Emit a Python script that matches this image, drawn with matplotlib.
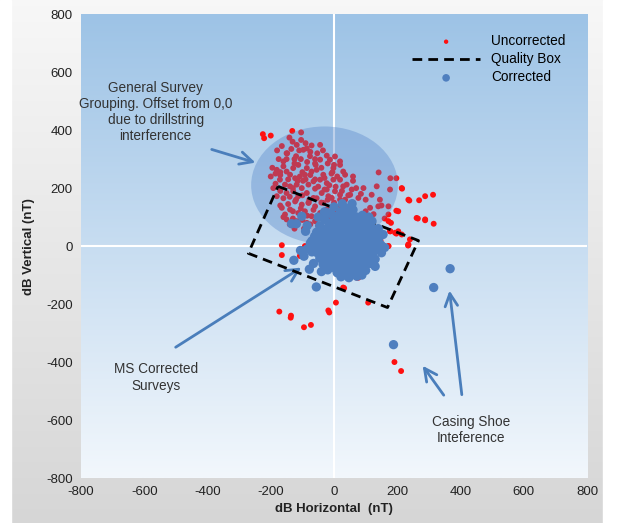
import numpy as np
import matplotlib
matplotlib.use("Agg")
import matplotlib.pyplot as plt
from matplotlib.patches import Ellipse

plt.rcParams['font.family'] = ['Liberation Sans', 'DejaVu Sans']
plt.rcParams['axes.unicode_minus'] = False

# ---------------- data ----------------
uncorrected_x = [-225, -221, -200, -132, -104, -141, -131, -118, -104, -97, -86, -71, -44,
                 -53, -23, -13, 3, -44, -160, -181, -150, -129, -113, -86, -71, -55, -34, -2, 19,
                 -139, -123, -108, -92, -171, -155, -139, -118, -102, -81, -65, -44, -23, -2, 19, 35,
                 -150, -129, -113, -86, -65, -39, -18, 3, 19, -123, -102, -81, -60, -34,
                 -139, -113, -92, -71, -44, -23, -150, -118, -86, -60, -192, -181, -165, -155,
                 19, 29, 40, -60, -23, 29, 56, 93, 135, -7, 19, 51, 77, 119, 145, 177, 214,
                 114, 140, 172, 172, 203, 235, 269, 288, 261, 288, 193, 203, 214, 177, 145, 172,
                 240, 235, 140, 135, 119, 93, 77, 29, -97, -92,
                 -165, -165, -108, -92, 32, 6, -15, -18, -173, -137, -136, -95, -73,
                 191, 212, 108, 95, 124, 72, 172, 235, 151,
                 313, 315, 265, 288, 238, 215, 197, 178, 141, 234, 147, 197, 178, 172, 197, 126, 97,
                 -76, -58, -30, -148, -170, -5, 60, -98, -125, -80,
                 -180, -165, -150, -135, -120, -110, -90, -75, -60, -35, -20, 0, -8, 10,
                 -175, -160, -145, -130, -115, -100, -90, -75, -60, -50, -30, -15, 5, 25, 45,
                 -185, -170, -160, -140, -120, -100, -78, -55, -40, -20, 0, 20, 35, 60,
                 -170, -145, -130, -105, -85, -65, -45, -25, -10, 10,
                 -160, -130, -100, -75, -50, -125, -95, -140, -200, -195, -185,
                 70, 85, 100, 60, -40, -60, -85, -105, -125, -150, -170,
                 100, 125, 150, 160, 180]
uncorrected_y = [386, 372, 381, 397, 392, 374, 360, 349, 366, 332, 337, 347, 349,
                 320, 312, 298, 309, 298, 292, 263, 257, 269, 280, 269, 257, 263, 246, 269, 280,
                 246, 234, 240, 246, 229, 212, 206, 212, 200, 212, 223, 229, 217, 229, 229, 246,
                 183, 189, 172, 183, 166, 183, 172, 189, 177, 154, 143, 149, 137, 149,
                 126, 114, 120, 103, 114, 126, 92, 86, 80, 86, 200, 172, 132, 109,
                 292, 257, 212, 198, 195, 206, 195, 200, 206, 166, 160, 177, 166, 177, 160, 195, 200,
                 132, 137, 137, 109, 120, 160, 158, 172, 97, 92, 46, 51, 40, 51, 17, 0,
                 23, 6, 51, 16, -34, -57, -109, -143, -29, 0,
                 3, -31, -34, -6, -145, -195, -229, -222, -226, -247, -240, -280, -272,
                 -400, -431, -195, -63, -63, -109, 0, 3, 0,
                 177, 77, 95, 89, 157, 198, 234, 234, 254, 2, 19, 43, 51, 86, 122, -63, -63,
                 310, 280, 235, 320, 245, 255, 240, 225, 300, 150,
                 330, 345, 320, 335, 310, 330, 355, 325, 300, 330, 285, 280, 250, 240,
                 300, 275, 230, 200, 225, 255, 230, 245, 230, 205, 195, 210, 205, 190, 175,
                 215, 190, 165, 170, 160, 175, 160, 165, 150, 160, 150, 140, 160, 150,
                 140, 145, 120, 130, 105, 125, 100, 110, 95, 120,
                 100, 95, 90, 75, 70, 60, 60, 75, 240, 270, 250,
                 200, 180, 160, 225, 270, 285, 290, 300, 285, 300, 255,
                 120, 110, 140, 95, 80]

box_x = [-177, 267, 169, -271, -177]
box_y = [206, 19, -212, -25, 206]

corrected_x = [-10, 20, 48, 72,
               -30, 0, 28, 55, 85, 105,
               -45, -18, 10, 38, 62, 90, 115,
               -55, -28, 0, 25, 50, 78, 100, 125,
               -62, -35, -8, 18, 44, 70, 95, 120, 140,
               -58, -30, -5, 22, 48, 74, 100, 125, 148,
               -50, -22, 5, 30, 58, 85, 110, 135,
               -40, -12, 15, 42, 68, 95, 120,
               -25, 2, 28, 55, 80, 105,
               -10, 18, 45, 70, 95,
               10, 38, 65, 88,
               5, 35, 60, 90,
               -15, 15, 42, 70, 95, 120,
               -38, -5, 24, 52, 78, 105, 130,
               -48, -15, 12, 38, 64, 88, 112, 135,
               -70, -45, -20, 8, 32, 58, 84, 108, 132,
               -65, -40, -15, 10, 36, 62, 88, 112, 140,
               -55, -32, -5, 20, 45, 72, 98, 125,
               -45, -25, 2, 28, 55, 82, 108, 130,
               -35, -12, 15, 42, 68, 92, 115,
               -20, 5, 30, 55, 78, 100,
               25, 50, 72,
               -85, -95, -65, 155, -50, 130, -85, 60, -30,
               -134, -119, -102, -90, -61, -78, -40, 22, 47, 88, 150, 122, -19, 26, 57,
               -106, -127, -56, 160, 140, -75, -70, 0, 110, 40,
               367, 315, 188]
corrected_y = [112, 118, 108, 100,
               92, 88, 95, 86, 92, 80,
               70, 66, 74, 68, 72, 64, 70,
               48, 52, 46, 55, 48, 52, 44, 50,
               28, 32, 26, 34, 28, 33, 26, 30, 22,
               8, 12, 6, 14, 8, 12, 6, 10, 4,
               -12, -8, -14, -6, -12, -8, -14, -6,
               -32, -28, -34, -26, -32, -28, -34,
               -52, -46, -54, -48, -52, -46,
               -72, -66, -74, -68, -72,
               -92, -88, -94, -86,
               102, 104, 98, 106,
               80, 82, 78, 84, 76, 86,
               60, 58, 62, 60, 58, 62, 56,
               38, 40, 42, 38, 40, 36, 40, 38,
               18, 22, 18, 22, 18, 22, 18, 22, 16,
               -2, 2, -2, 2, -2, 2, -2, 2, -4,
               -22, -18, -22, -18, -22, -18, -22, -20,
               -42, -38, -42, -38, -42, -38, -42, -45,
               -62, -58, -62, -58, -62, -58, -60,
               -82, -78, -82, -80, -78, -84,
               -102, -100, -104,
               70, -35, -60, 40, 100, -70, -10, 125, 118,
               77, 77, 103, 51, 34, -80, -88, -106, -109, -100, -23, -40, 114, 146, 146,
               -15, -49, -141, -5, 60, 10, -20, 135, 100, 130,
               -78, -143, -340]

x_ticks = [-800, -600, -400, -200, 0, 200, 400, 600, 800]
y_ticks = [-800, -600, -400, -200, 0, 200, 400, 600, 800]

# ---------------- figure ----------------
fig = plt.figure(figsize=(6.18, 5.23), dpi=100)

# figure background gradient
bg = fig.add_axes([0, 0, 1, 1], zorder=-10)
grad = np.linspace(0, 1, 256).reshape(-1, 1)
top_c = np.array([0.97, 0.97, 0.97])
bot_c = np.array([0.84, 0.84, 0.84])
img = top_c[None, None, :] * (1 - grad[:, :, None]) + bot_c[None, None, :] * grad[:, :, None]
bg.imshow(img, aspect='auto', extent=[0, 1, 0, 1])
bg.axvspan(0, 0.018, color='white')
bg.axvspan(0.975, 1.0, color='white')
bg.set_xlim(0, 1); bg.set_ylim(0, 1)
bg.axis('off')

ax = fig.add_axes([0.131, 0.086, 0.819, 0.887])
ax.set_xlim(-800, 800)
ax.set_ylim(-800, 800)

# plot area gradient
pgrad = np.linspace(0, 1, 256).reshape(-1, 1)
ptop = np.array([157, 195, 230]) / 255
pbot = np.array([242, 247, 252]) / 255
pimg = ptop[None, None, :] * (1 - pgrad[:, :, None]) + pbot[None, None, :] * pgrad[:, :, None]
ax.imshow(pimg, aspect='auto', extent=[-800, 800, -800, 800], zorder=0)

ax.axvline(0, color='white', lw=1.5, zorder=1)
ax.axhline(0, color='white', lw=1.5, zorder=1)

ax.scatter(uncorrected_x, uncorrected_y, s=18, color='#FF1010', edgecolors='none', zorder=2)

ell = Ellipse((-30, 210), 464, 405, facecolor=(80/255, 130/255, 200/255), alpha=0.36,
              edgecolor='none', zorder=3)
ax.add_patch(ell)

ax.plot(box_x, box_y, color='black', lw=2, ls=(0, (3.5, 2.2)), zorder=4)
ax.scatter(corrected_x, corrected_y, s=45, color='#4F7FBF', edgecolors='none', zorder=5)

# legend handles
h1 = ax.scatter([], [], s=10, color='#FF1010', edgecolors='none')
h2, = ax.plot([], [], color='black', lw=2, ls=(0, (3.5, 2.2)))
h3 = ax.scatter([], [], s=30, color='#4F7FBF', edgecolors='none')
leg = ax.legend([h1, h2, h3], ['Uncorrected', 'Quality Box', 'Corrected'],
                loc='upper left', bbox_to_anchor=(0.63, 0.983), frameon=False,
                fontsize=9.8, handlelength=5.0, labelspacing=0.3, handletextpad=0.8)

arrow_c = '#4A7EBB'
ap = dict(arrowstyle='->,head_length=0.9,head_width=0.45', lw=2, color=arrow_c)
txt_c = '#333333'
fs_ann = 9.8
ax.text(-564, 463, 'General Survey\nGrouping. Offset from 0,0\ndue to drillstring\ninterference',
        ha='center', va='center', fontsize=fs_ann, color=txt_c, linespacing=1.2)
ax.annotate('', xy=(-240, 285), xytext=(-395, 336), arrowprops=ap)
ax.text(-564, -453, 'MS Corrected\nSurveys', ha='center', va='center', fontsize=fs_ann,
        color=txt_c, linespacing=1.2)
ax.annotate('', xy=(-96, -69), xytext=(-508, -354), arrowprops=ap)
ax.text(433, -635, 'Casing Shoe\nInteference', ha='center', va='center', fontsize=fs_ann,
        color=txt_c, linespacing=1.2)
ax.annotate('', xy=(364, -144), xytext=(405, -522), arrowprops=ap)
ax.annotate('', xy=(275, -405), xytext=(352, -522), arrowprops=ap)

ax.set_xticks(x_ticks)
ax.set_yticks(y_ticks)
ax.tick_params(length=0, labelsize=9.5, colors='#222222', pad=6)
for s in ax.spines.values():
    s.set_visible(False)
ax.set_xlabel('dB Horizontal  (nT)', fontsize=9.5, fontweight='bold', color='#222222', labelpad=3)
ax.set_ylabel('dB Vertical (nT)', fontsize=9.5, fontweight='bold', color='#222222', labelpad=8)

fig.savefig('out.png', dpi=100)
